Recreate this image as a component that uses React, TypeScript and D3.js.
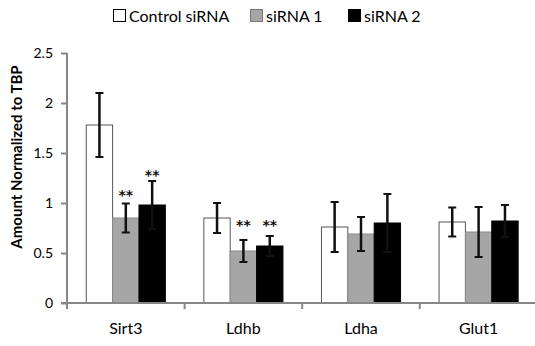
import { useRef, useEffect } from "react";
import * as d3 from "d3";

const genes = ["Sirt3", "Ldhb", "Ldha", "Glut1"];
const seriesNames = ["Control siRNA", "siRNA 1", "siRNA 2"];
const seriesColors = ["#ffffff", "#a6a6a6", "#000000"];
const control = [1.78, 0.85, 0.76, 0.81];
const controlErr = [0.32, 0.15, 0.25, 0.145];
const sirna1 = [0.85, 0.52, 0.69, 0.71];
const sirna1Err = [0.145, 0.11, 0.17, 0.25];
const sirna2 = [0.98, 0.57, 0.8, 0.82];
const sirna2Err = [0.24, 0.1, 0.29, 0.16];
// "**" markers: [gene index, series index, height in data units]
const stars: [number, number, number][] = [
  [0, 1, 1.09],
  [0, 2, 1.29],
  [1, 1, 0.79],
  [1, 2, 0.79],
];
const yTicks = [0, 0.5, 1, 1.5, 2, 2.5];

const FONT = "Lato, 'Open Sans', sans-serif";

export default function App() {
  const svgRef = useRef<SVGSVGElement>(null);

  useEffect(() => {
    if (!svgRef.current) return;
    const svg = d3.select(svgRef.current);
    svg.selectAll("*").remove();

    const W = 535, H = 346;
    const left = 67, bottom = 303;
    const y = d3.scaleLinear().domain([0, 2.5]).range([bottom, 53]);
    const x0 = d3.scaleBand<string>().domain(genes).range([left, left + 4 * 117.6]).paddingInner(0).paddingOuter(0);
    const x1 = d3.scaleBand<number>().domain([0, 1, 2]).range([0, x0.bandwidth()]).paddingInner(0).paddingOuter(0.73);

    const values = [control, sirna1, sirna2];
    const errs = [controlErr, sirna1Err, sirna2Err];

    const g = svg.append("g");

    // bars
    genes.forEach((gene, gi) => {
      values.forEach((vals, si) => {
        const bx = x0(gene)! + x1(si)!;
        g.append("rect")
          .attr("x", bx).attr("y", y(vals[gi]))
          .attr("width", x1.bandwidth()).attr("height", y(0) - y(vals[gi]))
          .attr("fill", seriesColors[si])
          .attr("stroke", si === 0 ? "#555" : si === 1 ? "#8a8a8a" : "#000")
          .attr("stroke-width", 1);
      });
    });

    // error bars
    genes.forEach((gene, gi) => {
      values.forEach((vals, si) => {
        const cx = x0(gene)! + x1(si)! + x1.bandwidth() / 2;
        const hi = y(vals[gi] + errs[si][gi]);
        const lo = y(vals[gi] - errs[si][gi]);
        const col = "#111";
        g.append("line").attr("x1", cx).attr("x2", cx).attr("y1", hi).attr("y2", lo)
          .attr("stroke", col).attr("stroke-width", 2.5);
        [hi, lo].forEach(yy => {
          g.append("line").attr("x1", cx - 4).attr("x2", cx + 4).attr("y1", yy).attr("y2", yy)
            .attr("stroke", col).attr("stroke-width", 2);
        });
      });
    });

    // significance stars
    stars.forEach(([gi, si, v]) => {
      g.append("text")
        .attr("x", x0(genes[gi])! + x1(si)! + x1.bandwidth() / 2)
        .attr("y", y(v) + 6)
        .attr("text-anchor", "middle")
        .attr("font-family", "'DejaVu Sans', sans-serif").attr("font-weight", "bold").attr("font-size", 14)
        .attr("fill", "#111")
        .text("**");
    });

    // y axis
    const ya = g.append("g").attr("transform", `translate(${left},0)`)
      .call(d3.axisLeft(y).tickValues(yTicks).tickSize(6).tickPadding(8).tickFormat(d => `${d}`));
    ya.select(".domain").attr("stroke", "#868686").attr("stroke-width", 2).attr("d", `M0,${y(2.5)}V${y(0)}`);
    ya.selectAll(".tick line").attr("stroke", "#868686").attr("stroke-width", 2);
    ya.selectAll("text").attr("fill", "#000").attr("font-size", 14).attr("font-family", FONT);

    // x axis
    g.append("line").attr("x1", left - 6).attr("x2", W).attr("y1", y(0)).attr("y2", y(0))
      .attr("stroke", "#868686").attr("stroke-width", 2);
    genes.forEach(gene => {
      g.append("line").attr("x1", x0(gene)!).attr("x2", x0(gene)!).attr("y1", y(0)).attr("y2", y(0) + 6)
        .attr("stroke", "#868686").attr("stroke-width", 2);
      g.append("text")
        .attr("x", x0(gene)! + x0.bandwidth() / 2).attr("y", 334)
        .attr("text-anchor", "middle").attr("font-family", FONT).attr("font-size", 16).attr("fill", "#000")
        .text(gene);
    });

    // y label
    g.append("text")
      .attr("transform", `translate(22,157) rotate(-90)`)
      .attr("text-anchor", "middle").attr("font-family", FONT).attr("font-weight", "bold").attr("font-size", 15)
      .attr("fill", "#000")
      .text("Amount Normalized to TBP");

    // legend
    const legendX = [113, 250, 348];
    seriesNames.forEach((name, i) => {
      const lg = g.append("g").attr("transform", `translate(${legendX[i]},9)`);
      lg.append("rect").attr("x", 0.5).attr("y", 0.5).attr("width", 12).attr("height", 12)
        .attr("fill", seriesColors[i]).attr("stroke", i === 0 ? "#000" : i === 1 ? "#777" : "#000").attr("stroke-width", 1);
      lg.append("text").attr("x", 16).attr("y", 12.5)
        .attr("font-family", FONT).attr("font-size", 16).attr("fill", "#000").text(name);
    });

    svg.attr("width", W).attr("height", H);
  }, []);

  return (
    <svg ref={svgRef} width={535} height={346}
      style={{ position: "absolute", left: 0, top: 0, background: "#fff" }} />
  );
}
